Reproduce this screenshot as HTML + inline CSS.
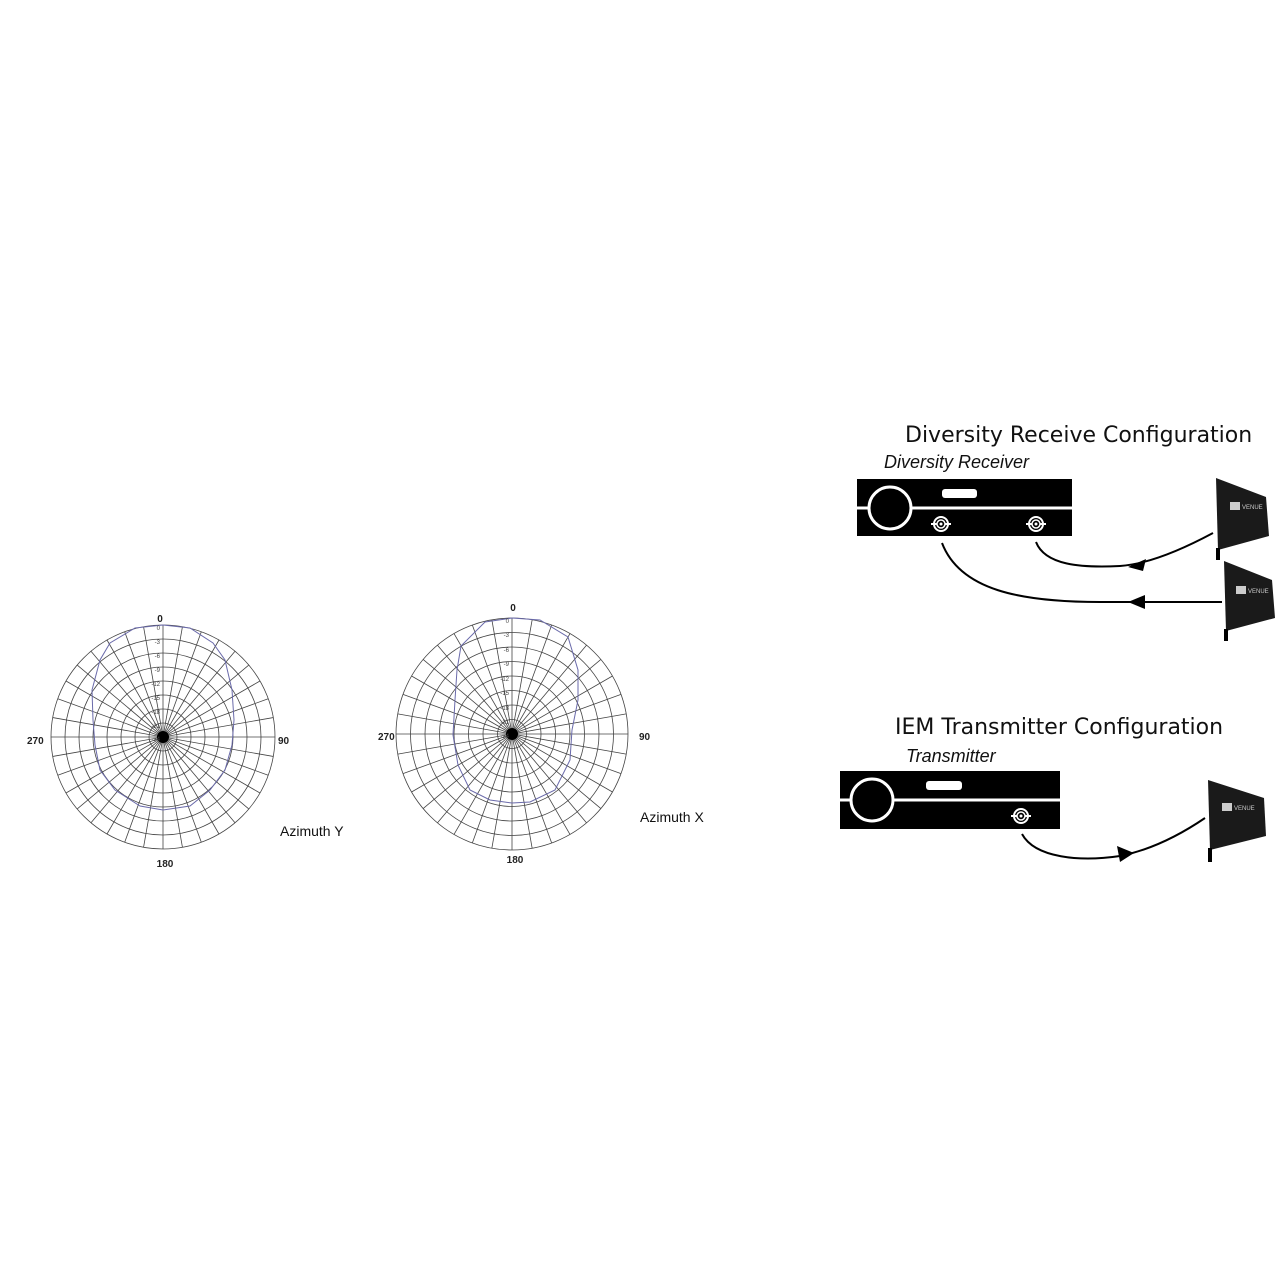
<!DOCTYPE html>
<html><head><meta charset="utf-8"><style>
html,body{margin:0;padding:0;background:#fff;}
body{width:1280px;height:1280px;overflow:hidden;position:relative;}
svg{position:absolute;left:0;top:0;}
</style></head><body>
<svg width="1280" height="1280" viewBox="0 0 1280 1280" xmlns="http://www.w3.org/2000/svg">
<defs>
<line id="spY" x1="163" y1="625" x2="163" y2="849" stroke="#444" stroke-width="0.8"/>
<line id="spX" x1="512" y1="618" x2="512" y2="850" stroke="#444" stroke-width="0.8"/>
<marker id="ar" viewBox="0 0 10 10" refX="5" refY="5" markerWidth="14" markerHeight="14" orient="auto-start-reverse" markerUnits="userSpaceOnUse"><path d="M0,0 L10,5 L0,10 Z" fill="#000"/></marker>
</defs>
<!-- Chart Y -->
<g fill="none" stroke="#444" stroke-width="0.8">
<circle cx="163" cy="737" r="112"/><circle cx="163" cy="737" r="98"/><circle cx="163" cy="737" r="84"/><circle cx="163" cy="737" r="70"/><circle cx="163" cy="737" r="56"/><circle cx="163" cy="737" r="42"/><circle cx="163" cy="737" r="28"/><circle cx="163" cy="737" r="14"/>
</g>
<g>
<use href="#spY"/><use href="#spY" transform="rotate(10 163 737)"/><use href="#spY" transform="rotate(20 163 737)"/><use href="#spY" transform="rotate(30 163 737)"/><use href="#spY" transform="rotate(40 163 737)"/><use href="#spY" transform="rotate(50 163 737)"/><use href="#spY" transform="rotate(60 163 737)"/><use href="#spY" transform="rotate(70 163 737)"/><use href="#spY" transform="rotate(80 163 737)"/><use href="#spY" transform="rotate(90 163 737)"/><use href="#spY" transform="rotate(100 163 737)"/><use href="#spY" transform="rotate(110 163 737)"/><use href="#spY" transform="rotate(120 163 737)"/><use href="#spY" transform="rotate(130 163 737)"/><use href="#spY" transform="rotate(140 163 737)"/><use href="#spY" transform="rotate(150 163 737)"/><use href="#spY" transform="rotate(160 163 737)"/><use href="#spY" transform="rotate(170 163 737)"/>
</g>
<circle cx="163" cy="737" r="6" fill="#000"/>
<path d="M163,625 L190,628 L213,643 L225,660 L232,690 L234,720 L232,745 L225,770 L210,790 L190,806 L163,810 L140,806 L115,790 L100,770 L95,745 L93,720 L92,690 L100,660 L110,643 L135,628 Z" fill="none" stroke="#6a6aaa" stroke-width="1"/>
<g font-family="Liberation Sans, sans-serif" font-size="6" fill="#444" text-anchor="end">
<text x="160" y="630">0</text><text x="160" y="644">-3</text><text x="160" y="658">-6</text><text x="160" y="672">-9</text><text x="160" y="686">-12</text><text x="160" y="700">-15</text><text x="160" y="714">-18</text><text x="160" y="728">-21</text><text x="160" y="741">-24</text>
</g>
<g font-family="Liberation Sans, sans-serif" font-size="10" font-weight="bold" fill="#222">
<text x="160" y="622" text-anchor="middle">0</text>
<text x="165" y="867" text-anchor="middle">180</text>
<text x="278" y="744">90</text>
<text x="27" y="744">270</text>
</g>
<text x="280" y="836" font-family="Liberation Sans, sans-serif" font-size="14" fill="#111">Azimuth Y</text>

<!-- Chart X -->
<g fill="none" stroke="#444" stroke-width="0.8">
<circle cx="512" cy="734" r="116"/><circle cx="512" cy="734" r="101.5"/><circle cx="512" cy="734" r="87"/><circle cx="512" cy="734" r="72.5"/><circle cx="512" cy="734" r="58"/><circle cx="512" cy="734" r="43.5"/><circle cx="512" cy="734" r="29"/><circle cx="512" cy="734" r="14.5"/>
</g>
<g>
<use href="#spX"/><use href="#spX" transform="rotate(10 512 734)"/><use href="#spX" transform="rotate(20 512 734)"/><use href="#spX" transform="rotate(30 512 734)"/><use href="#spX" transform="rotate(40 512 734)"/><use href="#spX" transform="rotate(50 512 734)"/><use href="#spX" transform="rotate(60 512 734)"/><use href="#spX" transform="rotate(70 512 734)"/><use href="#spX" transform="rotate(80 512 734)"/><use href="#spX" transform="rotate(90 512 734)"/><use href="#spX" transform="rotate(100 512 734)"/><use href="#spX" transform="rotate(110 512 734)"/><use href="#spX" transform="rotate(120 512 734)"/><use href="#spX" transform="rotate(130 512 734)"/><use href="#spX" transform="rotate(140 512 734)"/><use href="#spX" transform="rotate(150 512 734)"/><use href="#spX" transform="rotate(160 512 734)"/><use href="#spX" transform="rotate(170 512 734)"/>
</g>
<circle cx="512" cy="734" r="6" fill="#000"/>
<path d="M512,618 L540,620 L568,637 L578,670 L578,700 L572,730 L570,760 L555,790 L530,802 L512,803 L490,800 L470,790 L458,765 L453,735 L455,700 L457,670 L461,646 L485,622 Z" fill="none" stroke="#6a6aaa" stroke-width="1"/>
<g font-family="Liberation Sans, sans-serif" font-size="6" fill="#444" text-anchor="end">
<text x="509" y="623">0</text><text x="509" y="637">-3</text><text x="509" y="652">-6</text><text x="509" y="666">-9</text><text x="509" y="681">-12</text><text x="509" y="695">-15</text><text x="509" y="710">-18</text><text x="509" y="724">-21</text><text x="509" y="738">-24</text>
</g>
<g font-family="Liberation Sans, sans-serif" font-size="10" font-weight="bold" fill="#222">
<text x="513" y="611" text-anchor="middle">0</text>
<text x="515" y="863" text-anchor="middle">180</text>
<text x="639" y="740">90</text>
<text x="378" y="740">270</text>
</g>
<text x="640" y="822" font-family="Liberation Sans, sans-serif" font-size="14" fill="#111">Azimuth X</text>

<!-- Diversity -->
<text x="905" y="442" font-family="DejaVu Sans, Liberation Sans, sans-serif" font-size="22" fill="#111">Diversity Receive Configuration</text>
<text x="884" y="468" font-family="Liberation Sans, sans-serif" font-style="italic" font-size="18" fill="#111">Diversity Receiver</text>
<rect x="857" y="479" width="215" height="57" fill="#000"/>
<line x1="857" y1="508" x2="1072" y2="508" stroke="#fff" stroke-width="3"/>
<circle cx="890" cy="508" r="21" fill="#000" stroke="#fff" stroke-width="3"/>
<rect x="942" y="489" width="35" height="9" rx="3" fill="#fff"/>
<g fill="none" stroke="#fff" stroke-width="2">
<circle cx="941" cy="524" r="7"/><circle cx="1036" cy="524" r="7"/>
<line x1="931" y1="524" x2="951" y2="524"/><line x1="1026" y1="524" x2="1046" y2="524"/>
</g>
<circle cx="941" cy="524" r="4" fill="#000" stroke="#fff" stroke-width="1.5"/>
<circle cx="1036" cy="524" r="4" fill="#000" stroke="#fff" stroke-width="1.5"/>
<circle cx="941" cy="524" r="1.5" fill="#fff"/><circle cx="1036" cy="524" r="1.5" fill="#fff"/>
<path d="M1036,542 C1045,565 1080,568 1120,566 C1150,564 1185,548 1213,533" fill="none" stroke="#000" stroke-width="2"/>
<path d="M1146,559 L1128,567 L1143,571 Z" fill="#000"/>
<path d="M942,543 C960,590 1020,602 1100,602 L1222,602" fill="none" stroke="#000" stroke-width="2"/>
<path d="M1128,602 L1145,595 L1145,609 Z" fill="#000"/>
<!-- antennas -->
<path d="M1216,478 L1266,497 L1269,536 L1218,550 Z" fill="#1a1a1a"/>
<rect x="1216" y="548" width="4" height="12" fill="#000"/>
<rect x="1230" y="502" width="10" height="8" fill="#ccc"/>
<text x="1242" y="509" font-family="Liberation Sans, sans-serif" font-size="6" fill="#ccc">VENUE</text>
<path d="M1224,561 L1272,580 L1275,618 L1226,631 Z" fill="#1a1a1a"/>
<rect x="1224" y="629" width="4" height="12" fill="#000"/>
<rect x="1236" y="586" width="10" height="8" fill="#ccc"/>
<text x="1248" y="593" font-family="Liberation Sans, sans-serif" font-size="6" fill="#ccc">VENUE</text>

<!-- IEM -->
<text x="895" y="734" font-family="DejaVu Sans, Liberation Sans, sans-serif" font-size="22" fill="#111">IEM Transmitter Configuration</text>
<text x="906" y="762" font-family="Liberation Sans, sans-serif" font-style="italic" font-size="18" fill="#111">Transmitter</text>
<rect x="840" y="771" width="220" height="58" fill="#000"/>
<line x1="840" y1="800" x2="1060" y2="800" stroke="#fff" stroke-width="3"/>
<circle cx="872" cy="800" r="21" fill="#000" stroke="#fff" stroke-width="3"/>
<rect x="926" y="781" width="36" height="9" rx="3" fill="#fff"/>
<g fill="none" stroke="#fff" stroke-width="2"><circle cx="1021" cy="816" r="7"/><line x1="1011" y1="816" x2="1031" y2="816"/></g>
<circle cx="1021" cy="816" r="4" fill="#000" stroke="#fff" stroke-width="1.5"/>
<circle cx="1021" cy="816" r="1.5" fill="#fff"/>
<path d="M1022,834 C1035,858 1080,862 1120,856 C1150,850 1180,835 1205,818" fill="none" stroke="#000" stroke-width="2"/>
<path d="M1134,853 L1117,846 L1120,862 Z" fill="#000"/>
<path d="M1208,780 L1264,798 L1266,836 L1210,850 Z" fill="#1a1a1a"/>
<rect x="1208" y="848" width="4" height="14" fill="#000"/>
<rect x="1222" y="803" width="10" height="8" fill="#ccc"/>
<text x="1234" y="810" font-family="Liberation Sans, sans-serif" font-size="6" fill="#ccc">VENUE</text>
</svg>
</body></html>
